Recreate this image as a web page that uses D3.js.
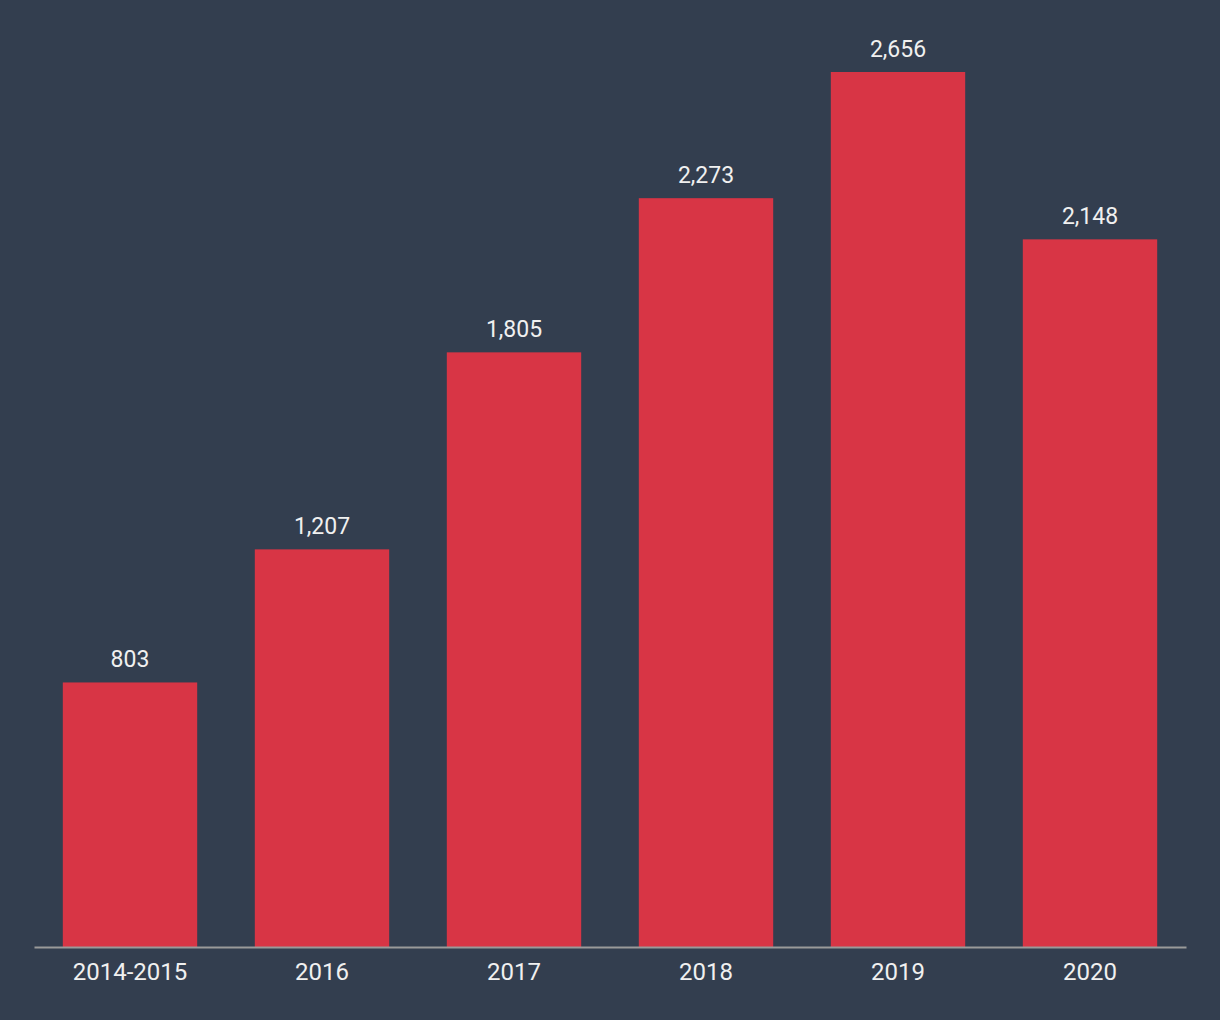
<!DOCTYPE html>
<html>
<head>
<meta charset="utf-8">
<script src="https://cdn.jsdelivr.net/npm/d3@7"></script>
<style>
	html, body { margin: 0; padding: 0; background: #333e4f; }
	text { font-family: Roboto, "Noto Sans", sans-serif; }
</style>
</head>
<body>
<script>
// Chart data
var years = ["2014-2015", "2016", "2017", "2018", "2019", "2020"];
var values = [803, 1207, 1805, 2273, 2656, 2148];

var width = 1220;
var height = 1020;

// Plot area edges
var margin = { top: 72, right: 34, bottom: 73, left: 34 };

var svg = d3.select("body").append("svg")
	.attr("width", width)
	.attr("height", height);

svg.append("rect")
	.attr("width", width)
	.attr("height", height)
	.attr("fill", "#333e4f");

var x = d3.scaleBand()
	.domain(years)
	.range([margin.left, width - margin.right])
	.paddingInner(0.3)
	.paddingOuter(0.15);

var y = d3.scaleLinear()
	.domain([0, d3.max(values)])
	.range([height - margin.bottom, margin.top]);

var data = years.map(function(d, i) { return { year: d, value: values[i] }; });

// bars
svg.selectAll(".bar")
	.data(data)
	.enter().append("rect")
	.attr("class", "bar")
	.attr("x", function(d) { return x(d.year); })
	.attr("y", function(d) { return y(d.value); })
	.attr("width", x.bandwidth())
	.attr("height", function(d) { return y(0) - y(d.value); })
	.attr("fill", "#d83545");

// value labels above bars
svg.selectAll(".label")
	.data(data)
	.enter().append("text")
	.attr("class", "label")
	.attr("x", function(d) { return x(d.year) + x.bandwidth() / 2; })
	.attr("y", function(d) { return y(d.value) - 15; })
	.attr("text-anchor", "middle")
	.attr("font-size", 23)
	.attr("fill", "#f0f0f0")
	.text(function(d) { return d3.format(",")(d.value); });

// x axis
var xAxis = d3.axisBottom(x).tickSize(0).tickPadding(16);
var gx = svg.append("g")
	.attr("transform", "translate(0," + y(0) + ")")
	.call(xAxis);
gx.select(".domain")
	.attr("stroke", "#9a9a9a")
	.attr("stroke-width", 2);
gx.selectAll("text")
	.attr("font-size", 24)
	.attr("fill", "#f0f0f0")
	.attr("font-family", "Roboto, 'Noto Sans', sans-serif");
</script>
</body>
</html>
